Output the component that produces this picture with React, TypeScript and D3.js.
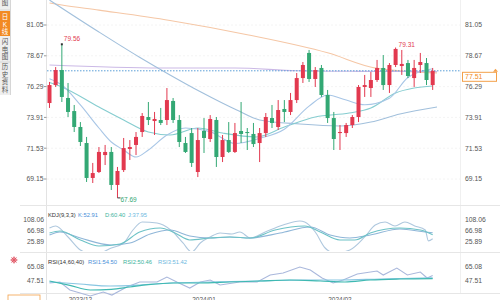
import React from 'react';
import * as d3 from 'd3';

const opens = [75.02,76.41,77.57,75.41,74.40,73.17,71.93,69.23,69.69,71.00,71.24,68.69,69.84,71.47,71.78,72.78,73.94,73.63,73.71,73.71,75.18,73.71,71.93,72.70,69.69,72.86,72.24,73.71,70.85,72.16,71.24,72.86,72.78,72.63,71.93,72.70,73.86,73.17,74.56,74.33,75.25,76.95,78.89,76.88,77.73,75.64,73.86,72.70,72.70,73.32,73.94,76.26,76.18,76.80,77.73,76.41,77.96,77.88,78.11,76.95,77.96,78.11,76.41];
const highs = [76.65,77.80,79.56,76.57,74.87,73.55,72.40,70.39,71.62,71.78,71.62,70.08,72.32,72.16,72.78,74.25,75.10,74.33,74.64,76.18,75.41,74.09,72.40,73.09,73.09,73.86,74.09,73.94,72.55,73.55,73.48,75.10,73.09,73.48,73.09,74.25,74.87,75.25,75.25,75.80,77.34,78.19,79.12,77.80,77.96,76.03,74.33,73.32,73.48,74.09,76.41,77.19,77.42,78.35,78.73,78.11,79.31,79.12,78.35,78.35,78.89,78.50,77.73];
const lows = [74.64,76.26,75.10,73.94,72.78,71.70,68.92,68.84,69.61,70.23,68.30,67.69,69.69,70.62,71.00,72.40,73.32,72.55,73.32,73.32,73.48,71.62,71.16,70.08,69.30,71.16,72.01,70.08,70.46,71.16,71.16,71.93,71.39,71.62,70.46,72.40,73.09,72.94,73.55,74.09,75.02,76.57,76.65,76.26,75.49,73.48,71.39,71.39,72.40,73.09,73.55,75.49,75.49,76.65,76.03,75.80,77.80,77.19,76.95,76.26,77.34,76.41,76.03];
const closes = [76.41,77.57,75.49,74.33,73.17,72.01,69.23,69.61,71.24,71.24,68.69,69.77,71.54,71.62,72.40,74.02,73.71,73.79,73.48,75.25,73.71,72.01,71.24,70.39,72.16,72.32,73.79,70.85,72.16,71.24,72.70,72.63,72.70,71.85,72.70,73.94,73.48,74.48,74.33,75.25,76.95,77.96,76.88,77.57,75.64,73.86,72.24,72.78,73.32,73.94,76.26,76.41,76.80,77.73,76.41,77.96,79.20,78.04,77.11,77.73,78.19,76.80,77.51];

const mainTicks = [81.05, 78.67, 76.29, 73.91, 71.53, 69.15];
const kdjTicks = [108.06, 66.98, 25.89];
const rsiTicks = [65.08, 47.51];
const dateLabels = ['2023/12', '2024/01', '2024/02'];
const dateIdx = [5, 25, 47];
const lastPrice = 77.51;

const ma10Idx = [0, 2, 5, 8, 10, 12, 14, 16, 19, 22, 26, 30, 34, 38, 42, 45, 48, 51, 55, 58, 62];
const ma10Val = [76.9, 76.41, 74.87, 73.09, 72.01, 71.39, 70.85, 71.39, 72.55, 73.09, 72.81, 71.89, 72.29, 73.0, 74.78, 75.64, 75.25, 74.89, 75.39, 76.99, 77.67];
const ma20Idx = [0, 2, 8, 12, 16, 19.5, 24, 28, 33.5, 38, 43, 48.5, 52, 56, 59, 62];
const ma20Val = [76.6, 76.26, 74.71, 73.71, 72.78, 72.55, 73.09, 72.70, 72.40, 73.17, 73.94, 74.25, 74.64, 75.80, 76.18, 76.34];
const ma60Idx = [0, 8, 14.5, 19.5, 24.5, 30.3, 34, 40.5, 47, 52, 56.7, 62.7];
const ma60Val = [82.98, 80.51, 78.58, 77.19, 75.87, 74.48, 73.71, 73.40, 73.25, 73.55, 74.17, 74.71];
const ma120Idx = [0, 18, 30, 40, 50, 62.7];
const ma120Val = [77.96, 77.73, 77.73, 77.52, 77.47, 77.45];
const ma250Idx = [0, 2, 8, 19.5, 32, 45, 53, 62.7];
const ma250Val = [82.75, 82.6, 82.2, 81.4, 80.3, 78.9, 77.7, 77.35];

const kIdx = [0, 1.7, 5, 8, 11.4, 14.6, 17.9, 20.3, 22.7, 26, 29.2, 32.5, 36.5, 41.3, 43.8, 47, 49.4, 51.9, 56.7, 60, 62];
const kVal = [59.5, 67.0, 33.4, 11.0, 18.4, 63.2, 78.2, 59.5, 33.4, 40.8, 44.6, 40.8, 70.7, 85.7, 63.2, 33.4, 33.4, 59.5, 78.2, 70.7, 52.91];
const dIdx = [0, 1.7, 5, 10, 13, 16.3, 19.5, 22.7, 26, 29.2, 32.5, 37.3, 42.2, 45.4, 48.6, 51.9, 56.7, 60.8, 62];
const dVal = [52.0, 63.2, 40.8, 14.7, 22.2, 55.8, 70.7, 48.3, 40.8, 44.6, 40.8, 59.5, 81.9, 52.0, 40.8, 52.0, 74.4, 63.2, 60.40];
const jIdx = [0, 1, 3, 5, 6.5, 8, 10, 12, 13.5, 15, 17.4, 18.4, 20, 21.6, 23, 24.4, 26, 27.6, 29.5, 30.8, 32.5, 34.9, 37.8, 40.5, 41.3, 43, 44.6, 46.2, 48.6, 51, 52.7, 54.3, 55.9, 57.5, 59.1, 60.8, 61.3, 62];
const jVal = [78.2, 85.7, 44.6, -4.0, -15.2, -15.2, 3.5, 22.2, 70.7, 100.6, 96.9, 89.4, 63.2, 22.2, -11.5, 22.2, 44.6, 59.5, 55.8, 63.2, 40.8, 63.2, 89.4, 104.3, 100.6, 63.2, 3.5, -15.2, -4.0, 44.6, 89.4, 100.6, 85.7, 100.6, 85.7, 70.7, 30.0, 37.95];

const rsi1Idx = [0, 1.7, 3.3, 6.6, 8.7, 10.1, 12.5, 14.6, 17.4, 19, 20.6, 22.7, 24.4, 26, 27.6, 30.8, 33.6, 35.7, 37.8, 40.5, 42.2, 44.1, 45.9, 47.5, 49.8, 53, 54, 56.2, 57.9, 60, 61.1, 62];
const rsi1Val = [45.0, 46.3, 36.2, 28.7, 33.7, 29.9, 40.0, 46.3, 46.3, 52.5, 46.3, 38.7, 46.3, 48.8, 42.5, 46.3, 46.3, 55.0, 57.6, 65.1, 61.3, 51.3, 45.0, 48.8, 56.3, 60.1, 55.0, 63.8, 55.0, 58.8, 51.3, 54.5];
const rsi2Idx = [0, 3.3, 6.6, 10, 13, 16, 20, 24.4, 29.2, 34, 38.9, 43.8, 47.8, 51.9, 56.7, 62];
const rsi2Val = [47.5, 42.0, 36.2, 37.0, 40.0, 43.0, 45.0, 45.0, 46.3, 47.5, 48.8, 47.5, 46.3, 48.8, 50.0, 50.46];
const rsi3Idx = [0, 4.9, 9.8, 14.6, 19.5, 26, 34, 40.5, 47, 53.5, 62];
const rsi3Val = [46.3, 43.7, 41.2, 42.5, 45.0, 46.3, 47.5, 48.8, 48.8, 50.0, 51.42];

const RED = '#e2394f';
const GREEN = '#33a874';
const FONT = '"Liberation Sans", Arial, "Noto Sans CJK SC", sans-serif';

const x = d3.scaleLinear().domain([-0.5, 66.5]).range([46.4, 460.5]);
const yMain = d3.scaleLinear().domain([69.15, 81.05]).range([179, 25]);
const yKdj = d3.scaleLinear().domain([25.89, 108.06]).range([242, 220]);
const yRsi = d3.scaleLinear().domain([47.51, 65.08]).range([281, 267]);

function path(idx: number[], vals: number[], y: d3.ScaleLinear<number, number>, curve: d3.CurveFactory = d3.curveMonotoneX) {
  const pts: [number, number][] = idx.map((v, i) => [v, vals[i]]);
  return d3.line<[number, number]>().x(d => x(d[0])).y(d => y(d[1])).curve(curve)(pts) || '';
}

function VText({ chars, x0, y0, step, color, size }: { chars: string; x0: number; y0: number; step: number; color: string; size: number }) {
  return (
    <text x={x0} fontSize={size} fill={color} textAnchor="middle" fontFamily={FONT}>
      {Array.from(chars).map((c, i) => (
        <tspan key={i} x={x0} y={y0 + i * step}>{c}</tspan>
      ))}
    </text>
  );
}

export default function App() {
  const bodyW = 4;
  const candles = closes.map((c, i) => {
    const o = opens[i];
    const up = c >= o;
    const color = up ? RED : GREEN;
    const top = yMain(Math.max(o, c));
    const bot = yMain(Math.min(o, c));
    const cx = x(i);
    return (
      <g key={i}>
        <line x1={cx} x2={cx} y1={yMain(highs[i])} y2={yMain(lows[i])} stroke={color} strokeWidth={1} />
        <rect x={cx - bodyW / 2} y={top} width={bodyW} height={Math.max(1, bot - top)} fill={color} />
      </g>
    );
  });

  const hiIdx = highs.indexOf(d3.max(highs.slice(0, 20)) as number);
  const loIdx = lows.indexOf(d3.min(lows) as number);
  const hi2Idx = highs.indexOf(d3.max(highs.slice(40)) as number);

  return (
    <svg width={500} height={300} style={{ position: 'absolute', left: 0, top: 0, background: '#fff' }} fontFamily={FONT}>
      <defs>
        <clipPath id="mainClip"><rect x={47} y={0} width={413} height={203} /></clipPath>
        <clipPath id="kdjClip"><rect x={47} y={206} width={413} height={45} /></clipPath>
        <clipPath id="rsiClip"><rect x={47} y={253} width={413} height={45} /></clipPath>
      </defs>
      <rect x={0} y={0} width={500} height={300} fill="#fff" />

      {/* sidebar */}
      <rect x={0} y={0} width={10} height={95} fill="#efefef" />
      <rect x={0} y={11} width={10} height={25} fill="#f28a22" />
      <line x1={0} x2={10} y1={10} y2={10} stroke="#d6d6d6" />
      <line x1={0} x2={10} y1={62} y2={62} stroke="#d6d6d6" />
      <line x1={10.5} x2={10.5} y1={0} y2={95} stroke="#d6d6d6" />
      <VText chars="分时图" x0={5} y0={-10} step={7.5} color="#555" size={6.5} />
      <VText chars="日K线" x0={5} y0={19} step={7.5} color="#fff" size={6.5} />
      <VText chars="闪电图" x0={5} y0={44} step={7.5} color="#555" size={6.5} />
      <VText chars="历史资料" x0={5} y0={69} step={7.5} color="#555" size={6.5} />

      {/* frame lines */}
      <line x1={46.5} x2={46.5} y1={0} y2={300} stroke="#e3e3e3" />
      <line x1={460.5} x2={460.5} y1={0} y2={293} stroke="#f0f0f0" />
      <line x1={20} x2={500} y1={205.5} y2={205.5} stroke="#e6e6e6" />
      <line x1={20} x2={500} y1={252.5} y2={252.5} stroke="#e6e6e6" />
      <line x1={20} x2={500} y1={293.5} y2={293.5} stroke="#e6e6e6" />

      {/* main axis labels */}
      {mainTicks.map(t => (
        <g key={t}>
          <text x={43.5} y={yMain(t) + 2.4} fontSize={6.8} fill="#555" textAnchor="end">{t.toFixed(2)}</text>
          <line x1={44} x2={46.5} y1={yMain(t)} y2={yMain(t)} stroke="#999" />
          <text x={465} y={yMain(t) + 2.4} fontSize={6.8} fill="#555">{t.toFixed(2)}</text>
          <line x1={47} x2={460} y1={yMain(t)} y2={yMain(t)} stroke="#f4f4f4" strokeDasharray="2 2" />
        </g>
      ))}

      <g clipPath="url(#mainClip)">
        <path d={path(ma250Idx, ma250Val, yMain)} fill="none" stroke="#f5c7a6" strokeWidth={1.1} />
        <path d={path(ma120Idx, ma120Val, yMain)} fill="none" stroke="#cbb9e6" strokeWidth={1.1} />
        <path d={path(ma60Idx, ma60Val, yMain)} fill="none" stroke="#a2c0dc" strokeWidth={1.1} />
        <path d={path(ma20Idx, ma20Val, yMain)} fill="none" stroke="#86cdd0" strokeWidth={1.1} />
        <path d={path(ma10Idx, ma10Val, yMain)} fill="none" stroke="#a8c6e6" strokeWidth={1.1} />
        <line x1={47} x2={460} y1={yMain(lastPrice)} y2={yMain(lastPrice)} stroke="#5a9fd8" strokeWidth={1} strokeDasharray="1.5 1.5" />
        {candles}
      </g>

      {/* extreme annotations */}
      <line x1={x(hiIdx)} x2={x(hiIdx)} y1={yMain(highs[hiIdx]) - 1} y2={yMain(highs[hiIdx]) + 1} stroke="#333" strokeWidth={2} />
      <text x={x(hiIdx) + 2} y={yMain(highs[hiIdx]) - 3} fontSize={6.5} fill={RED}>{highs[hiIdx].toFixed(2)}</text>
      <line x1={x(loIdx)} x2={x(loIdx) + 3} y1={yMain(lows[loIdx])} y2={yMain(lows[loIdx])} stroke="#333" strokeWidth={1} />
      <text x={x(loIdx) + 3} y={yMain(lows[loIdx]) + 4} fontSize={6.5} fill={GREEN}>{lows[loIdx].toFixed(2)}</text>
      <text x={x(hi2Idx) + 3} y={yMain(highs[hi2Idx]) - 1} fontSize={6.5} fill={RED}>{highs[hi2Idx].toFixed(2)}</text>

      {/* last price tag */}
      <rect x={462.5} y={yMain(lastPrice) + 1.5} width={34} height={9} fill="#fff" stroke="#f3a04a" strokeWidth={1} />
      <text x={465} y={yMain(lastPrice) + 8.5} fontSize={7} fill="#f08a22">{lastPrice.toFixed(2)}</text>
      <path d={`M493,${yMain(lastPrice) + 1} l2.5,-3 l2.5,3 z`} fill="#f3a04a" />

      {/* KDJ */}
      <text x={48} y={217} fontSize={5.8} fill="#333">KDJ(9,3,3)</text>
      <text x={78} y={217} fontSize={5.8} fill="#4a8fd8">K:52.91</text>
      <text x={105} y={217} fontSize={5.8} fill="#3cb39c">D:60.40</text>
      <text x={128} y={217} fontSize={5.8} fill="#6db8e0">J:37.95</text>
      {kdjTicks.map(t => (
        <g key={t}>
          <text x={44} y={yKdj(t) + 2.4} fontSize={6.8} fill="#555" textAnchor="end">{t.toFixed(2)}</text>
          <text x={465} y={yKdj(t) + 2.4} fontSize={6.8} fill="#555">{t.toFixed(2)}</text>
        </g>
      ))}
      <g clipPath="url(#kdjClip)">
        <path d={path(jIdx, jVal, yKdj)} fill="none" stroke="#afc8de" strokeWidth={1.1} />
        <path d={path(dIdx, dVal, yKdj)} fill="none" stroke="#8fb6d8" strokeWidth={1.1} />
        <path d={path(kIdx, kVal, yKdj)} fill="none" stroke="#6cc2c6" strokeWidth={1.1} />
      </g>

      {/* RSI */}
      <g transform="translate(14,260)">
        <circle r={2.2} fill="none" stroke="#e05060" strokeWidth={1} />
        {[0, 45, 90, 135].map(a => (
          <line key={a} x1={-3.6} x2={3.6} y1={0} y2={0} stroke="#e05060" strokeWidth={0.8} transform={`rotate(${a})`} />
        ))}
      </g>
      <text x={48} y={264} fontSize={5.8} fill="#333">RSI(14,60,40)</text>
      <text x={88} y={264} fontSize={5.8} fill="#4a8fd8">RSI1:54.50</text>
      <text x={123} y={264} fontSize={5.8} fill="#3cb39c">RSI2:50.46</text>
      <text x={158} y={264} fontSize={5.8} fill="#6db8e0">RSI3:51.42</text>
      {rsiTicks.map(t => (
        <g key={t}>
          <text x={44} y={yRsi(t) + 2.4} fontSize={6.8} fill="#555" textAnchor="end">{t.toFixed(2)}</text>
          <text x={465} y={yRsi(t) + 2.4} fontSize={6.8} fill="#555">{t.toFixed(2)}</text>
        </g>
      ))}
      <g clipPath="url(#rsiClip)">
        <path d={path(rsi1Idx, rsi1Val, yRsi, d3.curveLinear)} fill="none" stroke="#aab8dc" strokeWidth={1.1} />
        <path d={path(rsi3Idx, rsi3Val, yRsi)} fill="none" stroke="#88c6e2" strokeWidth={1.1} />
        <path d={path(rsi2Idx, rsi2Val, yRsi)} fill="none" stroke="#3fb9b2" strokeWidth={1.1} />
      </g>

      {/* bottom */}
      <rect x={8} y={295} width={32} height={8} fill="#fff" stroke="#f3a04a" strokeWidth={0.8} />
      {dateLabels.map((d, i) => (
        <text key={d} x={x(dateIdx[i])} y={302} fontSize={6.5} fill="#555" textAnchor="middle">{d}</text>
      ))}
    </svg>
  );
}
